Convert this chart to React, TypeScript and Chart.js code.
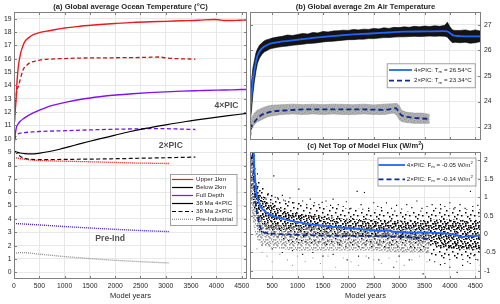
import React, { useEffect, useRef } from "react";
import { Chart, registerables } from "chart.js";

Chart.register(...registerables);

const FONT = "'Liberation Sans', Arial, Helvetica, sans-serif";
const TXT = "#262626";
const GRID = "#e8e8e8";
const FRAME = "#808080";
const RED = "#f01818";
const PURPLE = "#8010ff";
const PI_PURPLE = "#5020c0";
const PI_GRAY = "#8c8c8c";
const BLUE = "#1f66ff";
const NAVY = "#0d2d8a";

// ---------------- Panel (a): ocean temperature ----------------
const aXTicks = [0, 500, 1000, 1500, 2000, 2500, 3000, 3500, 4000, 4500];
const aXTickLabels = ["0", "500", "1000", "1500", "2000", "2500", "3000", "3500", "4000", "4500"];
const aYTicks = [0, 1, 2, 3, 4, 5, 6, 7, 8, 9, 10, 11, 12, 13, 14, 15, 16, 17, 18, 19];
const aYTickLabels = aYTicks.map(String);

const up4Years = [0, 20, 40, 60, 85, 130, 170, 216, 300, 380, 500, 700, 1000, 1300, 1700, 2000, 2350, 2700, 3000, 3300, 3650, 3950, 4050, 4150, 4300, 4450, 4600];
const up4Temp = [10.8, 11.9, 12.9, 14.3, 15.4, 16.4, 16.9, 17.3, 17.6, 17.8, 17.95, 18.1, 18.3, 18.43, 18.56, 18.64, 18.72, 18.77, 18.8, 18.84, 18.88, 18.94, 18.92, 18.86, 18.86, 18.88, 18.9];

const up2Years = [0, 20, 40, 60, 85, 120, 183, 250, 314, 400, 510, 700, 900, 1300, 1700, 2200, 2600, 2865, 3000, 3260, 3585];
const up2Temp = [10.8, 12.0, 13.1, 13.7, 13.9, 14.4, 15.2, 15.5, 15.7, 15.8, 15.9, 15.97, 16.0, 16.05, 16.06, 16.08, 16.1, 16.13, 16.06, 16.0, 15.97];

const full4Years = [0, 20, 50, 80, 118, 200, 379, 550, 706, 1034, 1360, 1688, 2014, 2342, 2669, 2996, 3320, 3650, 4000, 4300, 4600];
const full4Temp = [9.45, 10.2, 10.9, 11.1, 11.3, 11.55, 11.94, 12.22, 12.45, 12.75, 12.98, 13.15, 13.28, 13.38, 13.46, 13.52, 13.57, 13.61, 13.65, 13.67, 13.7];

const full2Years = [0, 15, 30, 60, 100, 200, 314, 500, 1034, 1500, 2014, 2500, 2865, 3200, 3585];
const full2Temp = [9.45, 9.9, 10.15, 10.3, 10.4, 10.47, 10.5, 10.55, 10.61, 10.67, 10.72, 10.75, 10.77, 10.74, 10.7];

const deep4Years = [0, 50, 118, 200, 314, 400, 510, 700, 902, 1100, 1295, 1500, 1688, 2000, 2277, 2600, 3000, 3400, 3800, 4200, 4600];
const deep4Temp = [9.1, 9.0, 8.94, 8.9, 8.87, 8.88, 8.93, 9.05, 9.22, 9.42, 9.62, 9.82, 9.99, 10.28, 10.53, 10.78, 11.05, 11.3, 11.52, 11.72, 11.9];

const deep2Years = [0, 60, 120, 183, 260, 350, 510, 1000, 1688, 2300, 2800, 3200, 3585];
const deep2Temp = [9.06, 8.9, 8.7, 8.57, 8.5, 8.46, 8.44, 8.46, 8.49, 8.53, 8.57, 8.6, 8.63];

const upPIYears = [0, 150, 379, 700, 1034, 1500, 2000, 2342, 2700, 3060];
const upPITemp = [8.6, 8.5, 8.4, 8.35, 8.32, 8.28, 8.23, 8.19, 8.17, 8.15];

const fullPIYears = [0, 500, 1000, 1500, 2000, 2500, 3060];
const fullPITemp = [3.66, 3.55, 3.43, 3.32, 3.22, 3.13, 3.05];

const deepPIYears = [0, 150, 500, 1000, 1500, 2000, 2500, 3060];
const deepPITemp = [1.42, 1.48, 1.36, 1.18, 1.03, 0.9, 0.8, 0.7];

// ---------------- Panel (b): 2m air temperature ----------------
const bXTicks = [500, 1000, 1500, 2000, 2500, 3000, 3500, 4000, 4500];
const bYTicks = [23, 24, 25, 26, 27];
const bYTickLabels = ["23", "24", "25", "26", "27"];

const tas4Years = [63, 80, 100, 120, 140, 170, 204, 240, 270, 330, 400, 500, 665, 850, 1058, 1300, 1518, 1800, 2050, 2445, 2800, 3081, 3500, 3868, 3947, 4000, 4065, 4200, 4400, 4612];
const tas4Mean = [23.5, 23.9, 24.4, 24.8, 25.1, 25.45, 25.75, 25.92, 26.02, 26.13, 26.21, 26.28, 26.34, 26.38, 26.43, 26.49, 26.53, 26.58, 26.62, 26.66, 26.7, 26.73, 26.74, 26.75, 26.74, 26.68, 26.59, 26.56, 26.55, 26.55];

const tas4BandYears = [63, 90, 120, 150, 180, 210, 250, 300, 350, 400, 450, 500, 600, 700, 800, 900, 1000, 1100, 1200, 1300, 1400, 1500, 1600, 1700, 1800, 1900, 2000, 2100, 2200, 2300, 2400, 2500, 2600, 2700, 2800, 2900, 3000, 3100, 3200, 3300, 3400, 3500, 3600, 3700, 3800, 3900, 3950, 4000, 4050, 4100, 4200, 4300, 4400, 4500, 4612];
const tas4BandHigh = [24.3, 24.7, 25.3, 25.6, 25.9, 26.05, 26.2, 26.3, 26.38, 26.42, 26.45, 26.48, 26.52, 26.55, 26.6, 26.58, 26.62, 26.66, 26.64, 26.7, 26.68, 26.74, 26.72, 26.76, 26.77, 26.79, 26.78, 26.82, 26.8, 26.83, 26.82, 26.86, 26.84, 26.88, 26.86, 26.9, 26.89, 26.92, 26.9, 26.94, 26.92, 26.95, 26.93, 26.96, 26.94, 26.98, 27.1, 26.92, 26.8, 26.78, 26.78, 26.8, 26.76, 26.8, 26.75];
const tas4BandLow = [23.2, 23.6, 24.3, 24.8, 25.2, 25.5, 25.7, 25.85, 25.95, 26.0, 26.05, 26.08, 26.12, 26.15, 26.17, 26.2, 26.22, 26.24, 26.27, 26.28, 26.3, 26.33, 26.35, 26.36, 26.38, 26.4, 26.42, 26.42, 26.44, 26.44, 26.46, 26.46, 26.48, 26.5, 26.5, 26.52, 26.53, 26.53, 26.54, 26.55, 26.54, 26.55, 26.56, 26.55, 26.56, 26.55, 26.52, 26.4, 26.3, 26.32, 26.3, 26.32, 26.28, 26.3, 26.35];

const tas2Years = [63, 90, 150, 270, 400, 530, 800, 1188, 1600, 2000, 2400, 2700, 2942, 2990, 3040, 3204, 3400, 3598];
const tas2Mean = [22.6, 23.0, 23.2, 23.45, 23.56, 23.62, 23.66, 23.7, 23.7, 23.7, 23.69, 23.68, 23.74, 23.6, 23.48, 23.39, 23.35, 23.32];

const tas2BandYears = [63, 100, 150, 200, 300, 400, 500, 700, 900, 1100, 1300, 1500, 1700, 1900, 2100, 2300, 2500, 2700, 2900, 2960, 3000, 3050, 3150, 3300, 3450, 3600];
const tas2BandHigh = [23.2, 23.4, 23.55, 23.65, 23.75, 23.82, 23.86, 23.88, 23.9, 23.88, 23.9, 23.88, 23.9, 23.89, 23.88, 23.9, 23.87, 23.9, 23.92, 23.93, 23.85, 23.65, 23.58, 23.55, 23.55, 23.5];
const tas2BandLow = [22.7, 22.95, 23.1, 23.2, 23.3, 23.4, 23.45, 23.5, 23.52, 23.5, 23.52, 23.5, 23.52, 23.5, 23.5, 23.52, 23.5, 23.5, 23.55, 23.45, 23.3, 23.22, 23.18, 23.15, 23.15, 23.15];

// ---------------- Panel (c): net TOA flux ----------------
const cXTicks = [500, 1000, 1500, 2000, 2500, 3000, 3500, 4000, 4500];
const cXTickLabels = ["500", "1000", "1500", "2000", "2500", "3000", "3500", "4000", "4500"];
const cYTicks = [-1, -0.5, 0, 0.5, 1, 1.5, 2];
const cYTickLabels = ["-1", "-0.5", "0", "0.5", "1", "1.5", "2"];

const flux4Years = [63, 100, 138, 150, 171, 205, 240, 270, 330, 402, 500, 663, 900, 1189, 1500, 1845, 2150, 2435, 2650, 2750, 2850, 3091, 3400, 3748, 3950, 4142, 4200, 4350, 4612];
const flux4Mean = [4.0, 3.0, 2.23, 1.75, 1.38, 1.02, 0.86, 0.75, 0.65, 0.57, 0.5, 0.43, 0.35, 0.28, 0.23, 0.18, 0.15, 0.11, 0.09, 0.1, 0.07, 0.05, 0.04, 0.03, 0.01, -0.03, -0.08, -0.06, -0.04];

const flux2Years = [63, 100, 138, 171, 205, 236, 270, 303, 400, 531, 800, 1189, 1845, 2435, 2800, 3091, 3419, 3616];
const flux2Mean = [3.5, 2.6, 1.7, 0.93, 0.55, 0.34, 0.18, 0.07, 0.03, 0.01, -0.01, -0.03, -0.05, -0.05, -0.06, -0.08, -0.11, -0.14];

// 4xPIC annual cloud: dense core and sparser halo envelopes
const flux4CloudYears = [63, 100, 138, 171, 205, 270, 400, 600, 800, 1000, 1300, 1600, 2000, 2400, 2800, 3200, 3600, 3800, 4000, 4300, 4612];
const flux4CoreHigh = [2.5, 2.4, 2.0, 1.6, 1.3, 1.05, 0.85, 0.72, 0.62, 0.56, 0.5, 0.46, 0.42, 0.4, 0.38, 0.36, 0.38, 0.4, 0.4, 0.38, 0.38];
const flux4CoreLow = [1.4, 1.1, 0.8, 0.6, 0.45, 0.3, 0.15, 0.1, 0.05, 0.02, 0.0, -0.02, -0.05, -0.08, -0.1, -0.12, -0.25, -0.35, -0.4, -0.42, -0.42];
const flux4HaloHigh = [2.5, 2.5, 2.3, 2.0, 1.7, 1.4, 1.15, 1.0, 0.9, 0.85, 0.8, 0.75, 0.7, 0.68, 0.65, 0.62, 0.65, 0.7, 0.7, 0.68, 0.68];
const flux4HaloLow = [1.0, 0.7, 0.5, 0.3, 0.15, 0.0, -0.1, -0.15, -0.2, -0.25, -0.28, -0.3, -0.35, -0.38, -0.4, -0.42, -0.55, -0.65, -0.7, -0.7, -0.7];

// 2xPIC annual cloud envelope
const flux2CloudYears = [63, 100, 138, 171, 205, 270, 400, 600, 1000, 1500, 2000, 2500, 3000, 3300, 3600];
const flux2CloudHigh = [2.5, 2.0, 1.5, 1.0, 0.7, 0.45, 0.3, 0.25, 0.2, 0.2, 0.2, 0.18, 0.15, 0.15, 0.15];
const flux2CloudLow = [1.0, 0.6, 0.2, -0.05, -0.15, -0.25, -0.35, -0.4, -0.45, -0.45, -0.45, -0.45, -0.5, -0.5, -0.5];

const flux4DotYears = [80, 95, 110, 120, 140, 150, 165, 190, 210, 230, 260, 290, 330, 380, 420, 470, 531, 560, 620, 700, 760, 850, 930, 1024, 1100, 1180, 1250, 1330, 1420, 1484, 1560, 1650, 1700, 1800, 1900, 1960, 2050, 2173, 2250, 2317, 2400, 2500, 2580, 2650, 2750, 2850, 2950, 3050, 3150, 3250, 3350, 3450, 3550, 3650, 3720, 3813, 3900, 4000, 4100, 4200, 4300, 4404, 4450, 4550, 300, 500, 700, 900, 1100, 1300, 1500, 1700, 1976, 2200, 2400, 2600, 2894, 3000, 3200, 3472, 3600, 3700, 3813, 3900, 4000, 4142, 4250, 4350, 4400, 4469, 4550, 4600];
const flux4DotVals = [2.1, 1.9, 2.0, 1.6, 1.5, 1.2, 1.4, 1.1, 1.25, 0.95, 1.05, 0.9, 1.0, 0.95, 1.1, 0.85, 1.58, 1.0, 0.95, 1.05, 0.9, 0.98, 0.85, 1.22, 0.9, 0.8, 0.95, 0.85, 0.8, 0.86, 0.9, 0.78, 0.95, 0.8, 0.75, 0.88, 0.7, 1.16, 0.8, 1.13, 0.7, 0.85, 0.75, 0.72, 0.85, 0.7, 0.78, 0.68, 0.8, 0.72, 0.9, 0.7, 0.75, 0.8, 0.7, 0.8, 0.75, 0.85, 0.72, 0.8, 0.7, 1.16, 0.75, 0.78, -0.3, -0.4, -0.5, -0.45, -0.55, -0.5, -0.6, -0.55, -0.7, -0.6, -0.65, -0.7, -0.9, -0.6, -0.7, -1.08, -0.7, -0.75, -0.83, -0.8, -0.9, -1.04, -0.85, -0.75, -0.8, -0.59, -0.7, -0.85];

const flux2DotYears = [200, 300, 400, 500, 650, 800, 900, 1000, 1150, 1300, 1450, 1600, 1750, 1900, 2050, 2200, 2350, 2500, 2650, 2800, 2950, 3100, 3250, 3400, 3550, 400, 700, 1000, 1300, 1600, 2000, 2400, 2800, 3200, 3500];
const flux2DotVals = [-0.4, -0.5, -0.6, -0.75, -0.55, -0.7, -0.85, -0.6, -0.75, -0.65, -0.8, -0.6, -0.9, -0.65, -0.75, -0.85, -0.6, -0.7, -0.8, -0.65, -0.75, -0.85, -0.7, -0.6, -0.75, 0.5, 0.45, 0.4, 0.45, 0.4, 0.35, 0.4, 0.35, 0.38, 0.3];

// ---------------- helpers ----------------
type Part = { t: string; sub?: boolean; sup?: boolean };

function pts(xs: number[], ys: number[]) {
  return xs.map((x, i) => ({ x, y: ys[i] }));
}

// stipple texture (style only): tile size and dot offsets inside one tile
function stipple(tile: number, dots: number[][], color: string, size: number): CanvasPattern | string {
  const c = document.createElement("canvas");
  c.width = tile;
  c.height = tile;
  const g = c.getContext("2d");
  if (!g) return color;
  g.fillStyle = color;
  for (const d of dots) g.fillRect(d[0], d[1], size, size);
  const p = g.createPattern(c, "repeat");
  return p || color;
}

function partsWidth(ctx: CanvasRenderingContext2D, parts: Part[], size: number, bold: boolean) {
  let w = 0;
  for (const p of parts) {
    const s = p.sub || p.sup ? size * 0.7 : size;
    ctx.font = `${bold ? "bold " : ""}${s}px ${FONT}`;
    w += ctx.measureText(p.t).width;
  }
  return w;
}

function drawParts(ctx: CanvasRenderingContext2D, parts: Part[], x: number, y: number, size: number, bold = false, color = TXT, align: "left" | "center" = "left") {
  let cx = align === "center" ? x - partsWidth(ctx, parts, size, bold) / 2 : x;
  ctx.fillStyle = color;
  ctx.textBaseline = "middle";
  ctx.textAlign = "left";
  for (const p of parts) {
    const s = p.sub || p.sup ? size * 0.7 : size;
    ctx.font = `${bold ? "bold " : ""}${s}px ${FONT}`;
    const dy = p.sub ? size * 0.3 : p.sup ? -size * 0.35 : 0;
    ctx.fillText(p.t, cx, y + dy);
    cx += ctx.measureText(p.t).width;
  }
}

type LegendItem = { color: string; dash: number[]; width: number; parts: Part[] };

function drawLegend(ctx: CanvasRenderingContext2D, box: number[], rows: number[], lx0: number, lx1: number, tx: number, size: number, items: LegendItem[]) {
  ctx.save();
  ctx.fillStyle = "#ffffff";
  ctx.fillRect(box[0], box[1], box[2], box[3]);
  ctx.strokeStyle = "#8a8a8a";
  ctx.lineWidth = 0.8;
  ctx.strokeRect(box[0] + 0.5, box[1] + 0.5, box[2], box[3]);
  items.forEach((it, i) => {
    ctx.beginPath();
    ctx.setLineDash(it.dash);
    ctx.strokeStyle = it.color;
    ctx.lineWidth = it.width;
    ctx.moveTo(lx0, rows[i]);
    ctx.lineTo(lx1, rows[i]);
    ctx.stroke();
    ctx.setLineDash([]);
    drawParts(ctx, it.parts, tx, rows[i], size);
  });
  ctx.restore();
}

function drawFrame(chart: any) {
  const { ctx, chartArea: a, scales } = chart;
  ctx.save();
  ctx.strokeStyle = FRAME;
  ctx.lineWidth = 1;
  const L = Math.round(a.left) + 0.5;
  const R = Math.round(a.right) - 0.5;
  const T = Math.round(a.top) + 0.5;
  const B = Math.round(a.bottom) - 0.5;
  ctx.strokeRect(L, T, R - L, B - T);
  const tl = 2.5;
  ctx.beginPath();
  for (const t of scales.x.ticks) {
    const p = Math.round(scales.x.getPixelForValue(t.value)) + 0.5;
    ctx.moveTo(p, B);
    ctx.lineTo(p, B - tl);
    ctx.moveTo(p, T);
    ctx.lineTo(p, T + tl);
  }
  for (const t of scales.y.ticks) {
    const p = Math.round(scales.y.getPixelForValue(t.value)) + 0.5;
    ctx.moveTo(L, p);
    ctx.lineTo(L + tl, p);
    ctx.moveTo(R, p);
    ctx.lineTo(R - tl, p);
  }
  ctx.stroke();
  ctx.restore();
}

function xScale(min: number, max: number, ticks: number[], labels: string[] | null, title: string, height: number) {
  return {
    type: "linear",
    min,
    max,
    afterBuildTicks: (s: any) => {
      s.ticks = ticks.map((v) => ({ value: v }));
    },
    afterFit: (s: any) => {
      s.height = height;
      s.paddingLeft = 0;
      s.paddingRight = 0;
    },
    grid: { color: GRID, lineWidth: 1, drawTicks: false },
    border: { display: false },
    ticks: {
      display: !!labels,
      autoSkip: false,
      maxRotation: 0,
      padding: 3.5,
      color: TXT,
      font: { family: FONT, size: 6.8 },
      callback: (_v: any, i: number) => (labels ? labels[i] : ""),
    },
    title: {
      display: !!title,
      text: title,
      color: TXT,
      font: { family: FONT, size: 7.5 },
      padding: { top: 0, bottom: 3.5 },
    },
  };
}

function yScale(min: number, max: number, ticks: number[], labels: string[], position: string, width: number) {
  return {
    type: "linear",
    position,
    min,
    max,
    afterBuildTicks: (s: any) => {
      s.ticks = ticks.map((v) => ({ value: v }));
    },
    afterFit: (s: any) => {
      s.width = width;
      s.paddingTop = 0;
      s.paddingBottom = 0;
    },
    grid: { color: GRID, lineWidth: 1, drawTicks: false },
    border: { display: false },
    ticks: {
      autoSkip: false,
      padding: position === "left" ? 2.5 : 3,
      color: TXT,
      font: { family: FONT, size: 6.8 },
      callback: (_v: any, i: number) => labels[i],
    },
  };
}

function lineDs(xs: number[], ys: number[], color: string, width: number, dash: number[], order: number) {
  return {
    type: "line",
    data: pts(xs, ys),
    borderColor: color,
    borderWidth: width,
    borderDash: dash,
    borderCapStyle: "butt",
    pointRadius: 0,
    fill: false,
    cubicInterpolationMode: "monotone",
    order,
  };
}

function bandDs(xs: number[], ys: number[], edge: string, fillStyle: any, order: number, edgeWidth = 0.6) {
  return {
    type: "line",
    data: pts(xs, ys),
    borderColor: edge,
    borderWidth: edgeWidth,
    pointRadius: 0,
    tension: 0,
    fill: fillStyle ? "-1" : false,
    backgroundColor: fillStyle || "transparent",
    order,
  };
}

function dotDs(xs: number[], ys: number[], color: string, order: number) {
  return {
    type: "line",
    data: pts(xs, ys),
    showLine: false,
    pointStyle: "rect",
    pointRadius: 0.8,
    pointBorderWidth: 0,
    pointBackgroundColor: color,
    borderColor: color,
    order,
  };
}

function baseOptions(padding: any, scales: any) {
  return {
    responsive: false,
    maintainAspectRatio: false,
    animation: false,
    devicePixelRatio: 1,
    events: [],
    layout: { padding, autoPadding: false },
    plugins: { legend: { display: false }, tooltip: { enabled: false }, title: { display: false } },
    scales,
  };
}

// ---------------- chart builders ----------------
function buildA(): any {
  const plugin = {
    id: "panelA",
    afterDatasetsDraw(chart: any) {
      drawFrame(chart);
    },
    afterDraw(chart: any) {
      const ctx: CanvasRenderingContext2D = chart.ctx;
      const a = chart.chartArea;
      const sx = chart.scales.x;
      const sy = chart.scales.y;
      ctx.save();
      drawParts(ctx, [{ t: "(a) Global average Ocean Temperature (°C)" }], (a.left + a.right) / 2, 7, 7.6, true, TXT, "center");
      const lab = "#505050";
      drawParts(ctx, [{ t: "4×PIC" }], sx.getPixelForValue(4200), sy.getPixelForValue(12.45), 8.6, true, lab, "center");
      drawParts(ctx, [{ t: "2×PIC" }], sx.getPixelForValue(3100), sy.getPixelForValue(9.5), 8.6, true, lab, "center");
      drawParts(ctx, [{ t: "Pre-Ind" }], sx.getPixelForValue(1900), sy.getPixelForValue(2.5), 8.6, true, lab, "center");
      drawLegend(ctx, [170, 174, 66.5, 51], [179.5, 187.5, 195.5, 203.5, 211.5, 219.3], 172, 193, 196, 6.2, [
        { color: RED, dash: [], width: 1.2, parts: [{ t: "Upper 1km" }] },
        { color: "#000", dash: [], width: 1.2, parts: [{ t: "Below 2km" }] },
        { color: PURPLE, dash: [], width: 1.2, parts: [{ t: "Full Depth" }] },
        { color: "#000", dash: [], width: 1.2, parts: [{ t: "38 Ma 4×PIC" }] },
        { color: "#000", dash: [4, 2.5], width: 1.2, parts: [{ t: "38 Ma 2×PIC" }] },
        { color: PI_GRAY, dash: [1, 1], width: 1.2, parts: [{ t: "Pre-Industrial" }] },
      ]);
      ctx.restore();
    },
  };
  return {
    type: "line",
    data: {
      datasets: [
        lineDs(up4Years, up4Temp, RED, 1.4, [], 0),
        lineDs(full4Years, full4Temp, PURPLE, 1.4, [], 0),
        lineDs(deep4Years, deep4Temp, "#000", 1.2, [], 0),
        lineDs(up2Years, up2Temp, "#c41414", 1.3, [4, 2.5], 1),
        lineDs(full2Years, full2Temp, "#7014e0", 1.3, [4, 2.5], 1),
        lineDs(deep2Years, deep2Temp, "#111", 1.2, [4, 2.5], 1),
        lineDs(upPIYears, upPITemp, RED, 1.3, [1, 1], 2),
        lineDs(fullPIYears, fullPITemp, PI_PURPLE, 1.4, [1, 1], 2),
        lineDs(deepPIYears, deepPITemp, PI_GRAY, 1.3, [1, 1], 2),
      ],
    },
    options: baseOptions({ left: 0, top: 12, right: 3, bottom: 0 }, {
      x: xScale(0, 4605, aXTicks, aXTickLabels, "Model years", 25),
      y: yScale(-0.5, 19.5, aYTicks, aYTickLabels, "left", 14),
    }),
    plugins: [plugin],
  };
}

function buildB(): any {
  const grayTex = stipple(6, [[0, 0], [3, 1], [1, 3], [4, 4], [2, 5], [5, 2]], "#7a7a7a", 1.3);
  const plugin = {
    id: "panelB",
    afterDatasetsDraw(chart: any) {
      drawFrame(chart);
    },
    afterDraw(chart: any) {
      const ctx: CanvasRenderingContext2D = chart.ctx;
      const a = chart.chartArea;
      ctx.save();
      drawParts(ctx, [{ t: "(b) Global average 2m Air Temperature" }], (a.left + a.right) / 2, 7, 7.6, true, TXT, "center");
      drawLegend(ctx, [146.7, 63.3, 88, 24], [70, 80.7], 149, 172, 174, 6.2, [
        { color: BLUE, dash: [], width: 1.8, parts: [{ t: "4×PIC: T" }, { t: "m", sub: true }, { t: " = 26.54°C" }] },
        { color: NAVY, dash: [5, 3], width: 1.8, parts: [{ t: "2×PIC: T" }, { t: "m", sub: true }, { t: " = 23.34°C" }] },
      ]);
      ctx.restore();
    },
  };
  return {
    type: "line",
    data: {
      datasets: [
        lineDs(tas4Years, tas4Mean, BLUE, 1.8, [], 0),
        lineDs(tas2Years, tas2Mean, NAVY, 1.8, [5, 3], 1),
        bandDs(tas2BandYears, tas2BandLow, "#9a9a9a", false, 2),
        bandDs(tas2BandYears, tas2BandHigh, "#9a9a9a", "rgba(160,160,160,0.8)", 2),
        bandDs(tas2BandYears, tas2BandLow, "transparent", false, 2, 0),
        bandDs(tas2BandYears, tas2BandHigh, "transparent", grayTex, 2, 0),
        bandDs(tas4BandYears, tas4BandLow, "#000", false, 3),
        bandDs(tas4BandYears, tas4BandHigh, "#000", "rgba(0,0,0,0.92)", 3),
      ],
    },
    options: baseOptions({ left: 10, top: 12, right: 0, bottom: 0 }, {
      x: xScale(63, 4612, bXTicks, null, "", 10),
      y: yScale(22.5, 27.5, bYTicks, bYTickLabels, "right", 19),
    }),
    plugins: [plugin],
  };
}

function buildC(): any {
  const coreTex = stipple(10, [[0, 0], [4, 1], [7, 2], [2, 3], [8, 5], [5, 5], [1, 7], [6, 8], [3, 9], [9, 9], [5, 3], [0, 5], [3, 6], [8, 7]], "#000", 1.6);
  const haloTex = stipple(13, [[1, 2], [8, 0], [4, 7], [11, 5], [6, 11], [0, 10], [9, 9], [5, 3]], "#000", 1.5);
  const grayTex = stipple(8, [[1, 0], [5, 1], [7, 3], [3, 3], [0, 5], [5, 5], [2, 7], [6, 7], [4, 0], [1, 3], [3, 6]], "#9a9a9a", 1.6);
  const plugin = {
    id: "panelC",
    afterDatasetsDraw(chart: any) {
      drawFrame(chart);
    },
    afterDraw(chart: any) {
      const ctx: CanvasRenderingContext2D = chart.ctx;
      const a = chart.chartArea;
      ctx.save();
      drawParts(ctx, [{ t: "(c) Net Top of Model Flux (W/m" }, { t: "2", sup: true }, { t: ")" }], (a.left + a.right) / 2, 6, 7.6, true, TXT, "center");
      drawLegend(ctx, [137.5, 17.5, 98, 28], [25, 39.3], 138.5, 165, 166.7, 6.2, [
        { color: BLUE, dash: [], width: 1.8, parts: [{ t: "4×PIC: F" }, { t: "m", sub: true }, { t: " = -0.05 W/m" }, { t: "2", sup: true }] },
        { color: NAVY, dash: [5, 3], width: 1.8, parts: [{ t: "2×PIC: F" }, { t: "m", sub: true }, { t: " = -0.14 W/m" }, { t: "2", sup: true }] },
      ]);
      ctx.restore();
    },
  };
  return {
    type: "line",
    data: {
      datasets: [
        lineDs(flux4Years, flux4Mean, BLUE, 1.8, [], 0),
        lineDs(flux2Years, flux2Mean, NAVY, 1.8, [5, 3], 1),
        dotDs(flux4DotYears, flux4DotVals, "#000", 2),
        dotDs(flux2DotYears, flux2DotVals, "#a0a0a0", 3),
        bandDs(flux2CloudYears, flux2CloudLow, "transparent", false, 4, 0),
        bandDs(flux2CloudYears, flux2CloudHigh, "transparent", grayTex, 4, 0),
        bandDs(flux4CloudYears, flux4CoreLow, "transparent", false, 5, 0),
        bandDs(flux4CloudYears, flux4CoreHigh, "transparent", coreTex, 5, 0),
        bandDs(flux4CloudYears, flux4HaloLow, "transparent", false, 6, 0),
        bandDs(flux4CloudYears, flux4HaloHigh, "transparent", haloTex, 6, 0),
      ],
    },
    options: baseOptions({ left: 10, top: 12, right: 0, bottom: 0 }, {
      x: xScale(63, 4612, cXTicks, cXTickLabels, "Model years", 25),
      y: yScale(-1.22, 2.23, cYTicks, cYTickLabels, "right", 19),
    }),
    plugins: [plugin],
  };
}

function ChartCanvas({ left, top, width, height, build }: { left: number; top: number; width: number; height: number; build: () => any }) {
  const ref = useRef<HTMLCanvasElement>(null);
  useEffect(() => {
    const c = ref.current;
    if (!c) return;
    const chart = new Chart(c, build());
    return () => chart.destroy();
  }, []);
  return <canvas ref={ref} width={width} height={height} style={{ position: "absolute", left, top, width, height }} />;
}

export default function App() {
  return (
    <div style={{ position: "absolute", left: 0, top: 0, width: 500, height: 304, background: "#ffffff", overflow: "hidden" }}>
      <ChartCanvas left={0} top={0} width={250} height={304} build={buildA} />
      <ChartCanvas left={240} top={0} width={260} height={150} build={buildB} />
      <ChartCanvas left={240} top={140} width={260} height={164} build={buildC} />
    </div>
  );
}
